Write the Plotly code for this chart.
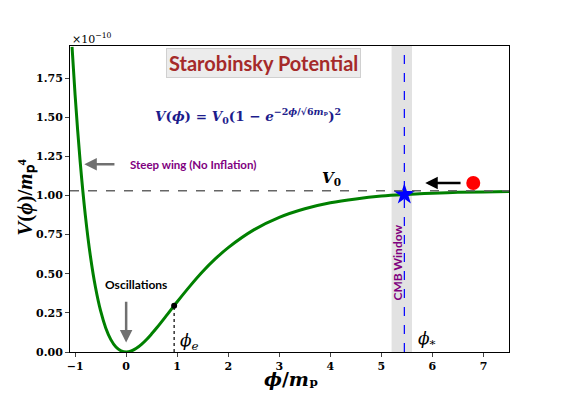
import plotly.graph_objects as go

# potential curve (units of 1e-10 m_p^4)
phi = [-1.06, -1.0, -0.9, -0.8, -0.7, -0.6, -0.5, -0.4, -0.3, -0.2, -0.1, 0.0,
       0.1, 0.2, 0.3, 0.4, 0.5, 0.6, 0.8, 0.94, 1.0, 1.25, 1.5, 1.75, 2.0,
       2.5, 3.0, 3.5, 4.0, 4.5, 5.0, 5.5, 6.0, 6.5, 7.0, 7.5]
V = [1.95, 1.642, 1.213, 0.875, 0.612, 0.412, 0.262, 0.154, 0.079, 0.032, 0.0075, 0.0,
     0.0063, 0.0234, 0.0486, 0.080, 0.116, 0.1545, 0.237, 0.296, 0.321, 0.421, 0.514, 0.596, 0.667,
     0.780, 0.860, 0.915, 0.953, 0.978, 0.996, 1.007, 1.015, 1.020, 1.023, 1.025]

V0 = 1.03
phi_end, V_end = 0.94, 0.296
phi_star, V_star = 5.45, 1.006
cmb_window = [5.2, 5.6]
ball_phi, ball_V = 6.8, 1.08

x_ticks = [-1, 0, 1, 2, 3, 4, 5, 6, 7]
y_ticks = [0.0, 0.25, 0.5, 0.75, 1.0, 1.25, 1.5, 1.75]

SERIF = "DejaVu Serif"

fig = go.Figure()

fig.add_shape(type="rect", x0=cmb_window[0], x1=cmb_window[1], y0=0, y1=1,
              xref="x", yref="paper", fillcolor="rgba(190,190,190,0.45)",
              line=dict(width=0), layer="below")
fig.add_shape(type="line", x0=0, x1=1, y0=V0, y1=V0, xref="paper", yref="y",
              line=dict(color="#666666", width=1.5, dash="dash"))
fig.add_shape(type="line", x0=phi_star, x1=phi_star, y0=0, y1=1, xref="x", yref="paper",
              line=dict(color="blue", width=1.2, dash="dash"))
fig.add_shape(type="line", x0=phi_end, x1=phi_end, y0=0, y1=V_end, xref="x", yref="y",
              line=dict(color="black", width=1.2, dash="dot"))

fig.add_trace(go.Scatter(x=phi, y=V, mode="lines", line=dict(color="green", width=3, shape="spline"),
                         showlegend=False, hoverinfo="skip"))
fig.add_trace(go.Scatter(x=[phi_end], y=[V_end], mode="markers",
                         marker=dict(color="black", size=6), showlegend=False))
fig.add_trace(go.Scatter(x=[phi_star], y=[V_star], mode="markers",
                         marker=dict(color="blue", size=16, symbol="star"), showlegend=False))
fig.add_trace(go.Scatter(x=[ball_phi], y=[ball_V], mode="markers",
                         marker=dict(color="red", size=14), showlegend=False))

# arrows
fig.add_annotation(x=-0.82, y=1.20, ax=-0.2, ay=1.20, axref="x", ayref="y", text="",
                   showarrow=True, arrowhead=2, arrowsize=1, arrowwidth=2.5, arrowcolor="#707070")
fig.add_annotation(x=0.0, y=0.06, ax=0.0, ay=0.33, axref="x", ayref="y", text="",
                   showarrow=True, arrowhead=2, arrowsize=1, arrowwidth=2.5, arrowcolor="#707070")
fig.add_annotation(x=5.86, y=ball_V, ax=6.58, ay=ball_V, axref="x", ayref="y", text="",
                   showarrow=True, arrowhead=2, arrowsize=1, arrowwidth=2.5, arrowcolor="black")

# text labels
fig.add_annotation(x=0.2, y=0.43, text="<b>Oscillations</b>", showarrow=False,
                   font=dict(family="Lato", size=12, color="black"))
fig.add_annotation(x=0.04, y=1.20, text="<b>Steep wing (No Inflation)</b>", showarrow=False,
                   xanchor="left", font=dict(family="Lato", size=11.5, color="purple"))
fig.add_annotation(x=5.32, y=0.57, text="<b>CMB Window</b>", showarrow=False, textangle=-90,
                   font=dict(family="Lato", size=12, color="purple"))
fig.add_annotation(x=4.02, y=1.11, text="<b><i>V</i><sub>0</sub></b>", showarrow=False,
                   font=dict(family=SERIF, size=15, color="black"))
fig.add_annotation(x=1.02, y=0.07, text="<i>ϕ<sub>e</sub></i>", showarrow=False, xanchor="left",
                   font=dict(family=SERIF, size=17, color="black"))
fig.add_annotation(x=5.67, y=0.08, text="<i>ϕ<sub>*</sub></i>", showarrow=False, xanchor="left",
                   font=dict(family=SERIF, size=17, color="black"))
fig.add_annotation(x=0.441, y=0.944, xref="paper", yref="paper", yanchor="middle",
                   text="<b>Starobinsky Potential</b>",
                   showarrow=False, bgcolor="#ececec", bordercolor="#d0d0d0", borderwidth=1, borderpad=2,
                   font=dict(family="Lato", size=20, color="#a52a2a"))
fig.add_annotation(x=0.189, y=0.772, xref="paper", yref="paper", xanchor="left", yanchor="middle",
                   text="<b><i>V</i>(<i>ϕ</i>) = <i>V</i><sub>0</sub>(1 − <i>e</i><sup>−2<i>ϕ</i>/√6<i>m</i>ₚ</sup>)<sup>2</sup></b>",
                   showarrow=False, font=dict(family=SERIF, size=13.5, color="#1c1c8c"))
fig.add_annotation(x=0, y=1.0, xref="paper", yref="paper", yanchor="bottom", xanchor="left",
                   yshift=-2, text="×10<sup>−10</sup>", showarrow=False,
                   font=dict(family=SERIF, size=11, color="black"))

# axis titles
fig.add_annotation(x=0.503, y=0, xref="paper", yref="paper", yanchor="middle", yshift=-27,
                   text="<b><i>ϕ</i>/<i>m</i>ₚ</b>", showarrow=False,
                   font=dict(family=SERIF, size=19, color="black"))
fig.add_annotation(x=0, y=0.504, xref="paper", yref="paper", xanchor="center", xshift=-44,
                   textangle=-90, text="<b><i>V</i>(<i>ϕ</i>)/<i>m</i>ₚ⁴</b>", showarrow=False,
                   font=dict(family="Liberation Serif", size=21, color="black"))

# page body has an 8px margin, so the figure is shifted; compensate
fig.update_layout(
    width=557, height=387,
    margin=dict(l=62, r=56, t=38, b=43),
    paper_bgcolor="white", plot_bgcolor="white",
    xaxis=dict(range=[-1.1, 7.5], tickvals=x_ticks, ticks="outside", ticklen=4, automargin=False,
               showgrid=False, zeroline=False, showline=True, linecolor="black", mirror=True,
               tickfont=dict(family=SERIF, size=11, color="black", weight="bold")),
    yaxis=dict(range=[0, 1.955], tickvals=y_ticks, tickformat=".2f", ticks="outside", ticklen=4,
               automargin=False,
               showgrid=False, zeroline=False, showline=True, linecolor="black", mirror=True,
               tickfont=dict(family=SERIF, size=11, color="black", weight="bold")),
)

fig.write_html("out.html")
